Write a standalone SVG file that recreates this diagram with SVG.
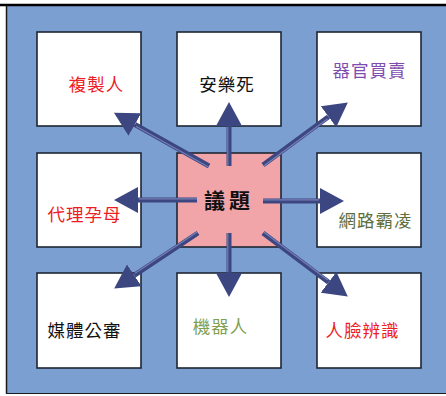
<svg xmlns="http://www.w3.org/2000/svg" width="446" height="396" viewBox="0 0 446 396">
  <style>
    .box { fill: #ffffff; stroke: #1f2633; stroke-width: 1.6; }
    .hub { fill: #f2a5a8; stroke: #1f2633; stroke-width: 1.6; }
    .lbl { font-family: "Noto Sans CJK TC", "Noto Sans CJK SC", sans-serif; font-size: 17.5px; text-anchor: middle; letter-spacing: 1px; }
    .shaft { stroke: #3c4680; stroke-width: 5; fill: none; }
    .hl { stroke: #7680b4; stroke-width: 1.2; fill: none; }
  </style>
  <defs>
    <marker id="head" viewBox="0 0 24 26" refX="0" refY="13" markerWidth="24" markerHeight="26" markerUnits="userSpaceOnUse" orient="auto">
      <path d="M0,0 L24,13 L0,26 Z" fill="#3c4680"/>
    </marker>
  </defs>
  <rect x="0" y="0" width="446" height="396" fill="#ffffff"/>
  <rect x="6.5" y="5" width="440" height="388" fill="#7b9fd0"/>
  <line x1="0" y1="5" x2="446" y2="5" stroke="#000" stroke-width="2.5"/>
  <line x1="6.5" y1="5" x2="6.5" y2="393.5" stroke="#1a1a1a" stroke-width="1.5"/>
  <line x1="6" y1="393.5" x2="446" y2="393.5" stroke="#1a1a1a" stroke-width="1"/>

  <g id="node-clone"><rect class="box" x="37" y="32" width="104" height="94"/><text class="lbl" x="96.5" y="91" fill="#ee1c25">複製人</text></g>
  <g id="node-euthanasia"><rect class="box" x="177" y="32" width="104" height="94"/><text class="lbl" x="227" y="91" fill="#111111">安樂死</text></g>
  <g id="node-organ"><rect class="box" x="317" y="32" width="104" height="94"/><text class="lbl" x="369.5" y="77" fill="#7e4cb0">器官買賣</text></g>
  <g id="node-surrogate"><rect class="box" x="37" y="153" width="104" height="94"/><text class="lbl" x="84.5" y="221" fill="#ee1c25">代理孕母</text></g>
  <g id="node-hub"><rect class="hub" x="177" y="153" width="104" height="94"/><text x="229" y="208" font-family="Noto Sans CJK TC, Noto Sans CJK SC, sans-serif" font-size="21" font-weight="bold" text-anchor="middle" letter-spacing="4" fill="#111111">議題</text></g>
  <g id="node-bully"><rect class="box" x="317" y="153" width="104" height="94"/><text class="lbl" x="375.5" y="227" fill="#5e6e3a">網路霸凌</text></g>
  <g id="node-media"><rect class="box" x="37" y="273" width="104" height="95"/><text class="lbl" x="84.5" y="337" fill="#111111">媒體公審</text></g>
  <g id="node-robot"><rect class="box" x="177" y="273" width="104" height="95"/><text class="lbl" x="220.5" y="333" fill="#7fa050">機器人</text></g>
  <g id="node-face"><rect class="box" x="317" y="273" width="104" height="95"/><text class="lbl" x="362.5" y="337" fill="#ee1c25">人臉辨識</text></g>

  <g id="connectors">
    <line class="shaft" x1="229" y1="166" x2="229" y2="126" marker-end="url(#head)"/>
    <line class="shaft" x1="209" y1="166" x2="134.9" y2="124.5" marker-end="url(#head)"/>
    <line class="shaft" x1="263" y1="165" x2="328.5" y2="116.7" marker-end="url(#head)"/>
    <line class="shaft" x1="197" y1="200" x2="138" y2="200" marker-end="url(#head)"/>
    <line class="shaft" x1="263" y1="201" x2="320" y2="201" marker-end="url(#head)"/>
    <line class="shaft" x1="198" y1="233" x2="134.2" y2="275.3" marker-end="url(#head)"/>
    <line class="shaft" x1="229" y1="233" x2="229" y2="273" marker-end="url(#head)"/>
    <line class="shaft" x1="263" y1="233" x2="328.6" y2="282.2" marker-end="url(#head)"/>
    <line class="hl" x1="227.8" y1="166" x2="227.8" y2="127"/>
    <line class="hl" x1="208.4" y1="167" x2="136" y2="126.3"/>
    <line class="hl" x1="263.8" y1="166" x2="327.5" y2="118.9"/>
    <line class="hl" x1="197" y1="198.8" x2="139" y2="198.8"/>
    <line class="hl" x1="263" y1="199.8" x2="319" y2="199.8"/>
    <line class="hl" x1="197.2" y1="232" x2="135" y2="273.3"/>
    <line class="hl" x1="227.8" y1="233" x2="227.8" y2="272"/>
    <line class="hl" x1="263.8" y1="232" x2="327.8" y2="280"/>
  </g>
</svg>
